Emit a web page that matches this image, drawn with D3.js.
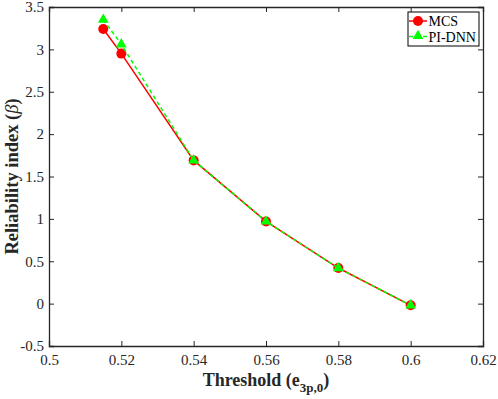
<!DOCTYPE html>
<html>
<head>
<meta charset="utf-8">
<script src="https://cdn.jsdelivr.net/npm/d3@7"></script>
<style>
  body { margin: 0; background: #fff; }
  svg { display: block; }
  svg text { font-family: "Liberation Serif", "Times New Roman", Times, serif; }
</style>
</head>
<body>
<div id="container"></div>
<script>
// data
const thresholds = [0.515, 0.52, 0.54, 0.56, 0.58, 0.60];
const mcsBeta = [3.24, 2.95, 1.69, 0.97, 0.42, -0.02];
const dnnBeta = [3.35, 3.06, 1.69, 0.97, 0.42, -0.02];
const xTicks = [0.5, 0.52, 0.54, 0.56, 0.58, 0.6, 0.62];
const yTicks = [-0.5, 0, 0.5, 1, 1.5, 2, 2.5, 3, 3.5];

const width = 498;
const height = 399;
const padLeft = 49, padRight = 483, padTop = 7, padBottom = 346;
const axisColor = '#262626';
const serif = '"Liberation Serif", "Times New Roman", Times, serif';

const svg = d3
  .select('#container')
  .append('svg')
  .attr('width', width)
  .attr('height', height);

const xScale = d3.scaleLinear().domain([0.5, 0.62]).range([padLeft, padRight]);
const yScale = d3.scaleLinear().domain([-0.5, 3.5]).range([padBottom, padTop]);

// axes (ticks inward, box all round)
const xAxis = d3.axisBottom(xScale).tickValues(xTicks).tickSize(-5).tickPadding(8)
  .tickFormat(d => String(+d.toFixed(2)));
const yAxis = d3.axisLeft(yScale).tickValues(yTicks).tickSize(-5).tickPadding(5)
  .tickFormat(d => (d < 0 ? '-' : '') + Math.abs(d));

const styleAxis = g => {
  g.attr('font-family', serif).attr('font-size', 15);
  g.selectAll('path, line').attr('stroke', axisColor).attr('stroke-width', 1);
  g.selectAll('text').attr('fill', axisColor);
};

svg.append('g').attr('transform', `translate(0,${padBottom})`).call(xAxis).call(styleAxis);
svg.append('g').attr('transform', `translate(${padLeft},0)`).call(yAxis).call(styleAxis);
svg.append('g').attr('transform', `translate(0,${padTop})`)
  .call(d3.axisTop(xScale).tickValues(xTicks).tickSize(-5).tickFormat(''))
  .call(styleAxis);
svg.append('g').attr('transform', `translate(${padRight},0)`)
  .call(d3.axisRight(yScale).tickValues(yTicks).tickSize(-5).tickFormat(''))
  .call(styleAxis);
svg.selectAll('.domain').attr('stroke-width', 1.3);

// lines
const mcsData = thresholds.map((t, i) => [t, mcsBeta[i]]);
const dnnData = thresholds.map((t, i) => [t, dnnBeta[i]]);
const line = d3.line().x(d => xScale(d[0])).y(d => yScale(d[1]));

svg.append('path').datum(mcsData).attr('d', line)
  .attr('fill', 'none').attr('stroke', '#ff0000').attr('stroke-width', 1.5);
svg.selectAll('.mcs').data(mcsData).enter().append('circle')
  .attr('cx', d => xScale(d[0])).attr('cy', d => yScale(d[1])).attr('r', 5)
  .attr('fill', '#ff0000');

svg.append('path').datum(dnnData).attr('d', line)
  .attr('fill', 'none').attr('stroke', '#00ff00').attr('stroke-width', 1.5)
  .attr('stroke-dasharray', '4,3');
const tri = d3.symbol().type(d3.symbolTriangle).size(50);
svg.selectAll('.dnn').data(dnnData).enter().append('path')
  .attr('d', tri)
  .attr('transform', d => `translate(${xScale(d[0])},${yScale(d[1])})`)
  .attr('fill', '#00ff00');

// legend
const lg = svg.append('g').attr('transform', 'translate(408,12)')
  .attr('font-family', serif).attr('font-size', 14);
lg.append('rect').attr('width', 71).attr('height', 34)
  .attr('fill', '#fff').attr('stroke', '#000').attr('stroke-width', 1);
lg.append('line').attr('x1', 1).attr('x2', 19).attr('y1', 9).attr('y2', 9)
  .attr('stroke', '#ff0000').attr('stroke-width', 1.5);
lg.append('circle').attr('cx', 10).attr('cy', 9).attr('r', 5).attr('fill', '#ff0000');
lg.append('text').attr('x', 20.5).attr('y', 14).text('MCS').attr('fill', '#000');
lg.append('line').attr('x1', 1).attr('x2', 19).attr('y1', 24.5).attr('y2', 24.5)
  .attr('stroke', '#00ff00').attr('stroke-width', 1.5).attr('stroke-dasharray', '4,3');
lg.append('path').attr('d', tri).attr('transform', 'translate(10,24)').attr('fill', '#00ff00');
lg.append('text').attr('x', 20.5).attr('y', 29.5).text('PI-DNN').attr('fill', '#000');

// axis labels
const xl = svg.append('text').attr('x', 266).attr('y', 386).attr('text-anchor', 'middle')
  .attr('font-family', serif).attr('font-size', 18).attr('font-weight', 'bold')
  .attr('fill', axisColor);
xl.append('tspan').text('Threshold (e');
xl.append('tspan').attr('dy', 6).attr('font-size', 13).text('3p,0');
xl.append('tspan').attr('dy', -6).text(')');

const yl = svg.append('text')
  .attr('transform', `translate(18,${(padTop + padBottom) / 2}) rotate(-90)`)
  .attr('text-anchor', 'middle')
  .attr('font-family', serif).attr('font-size', 18.5).attr('font-weight', 'bold')
  .attr('fill', axisColor);
yl.append('tspan').text('Reliability index (');
yl.append('tspan').attr('font-style', 'italic').attr('font-weight', 'normal').text('β');
yl.append('tspan').text(')');
</script>
</body>
</html>
